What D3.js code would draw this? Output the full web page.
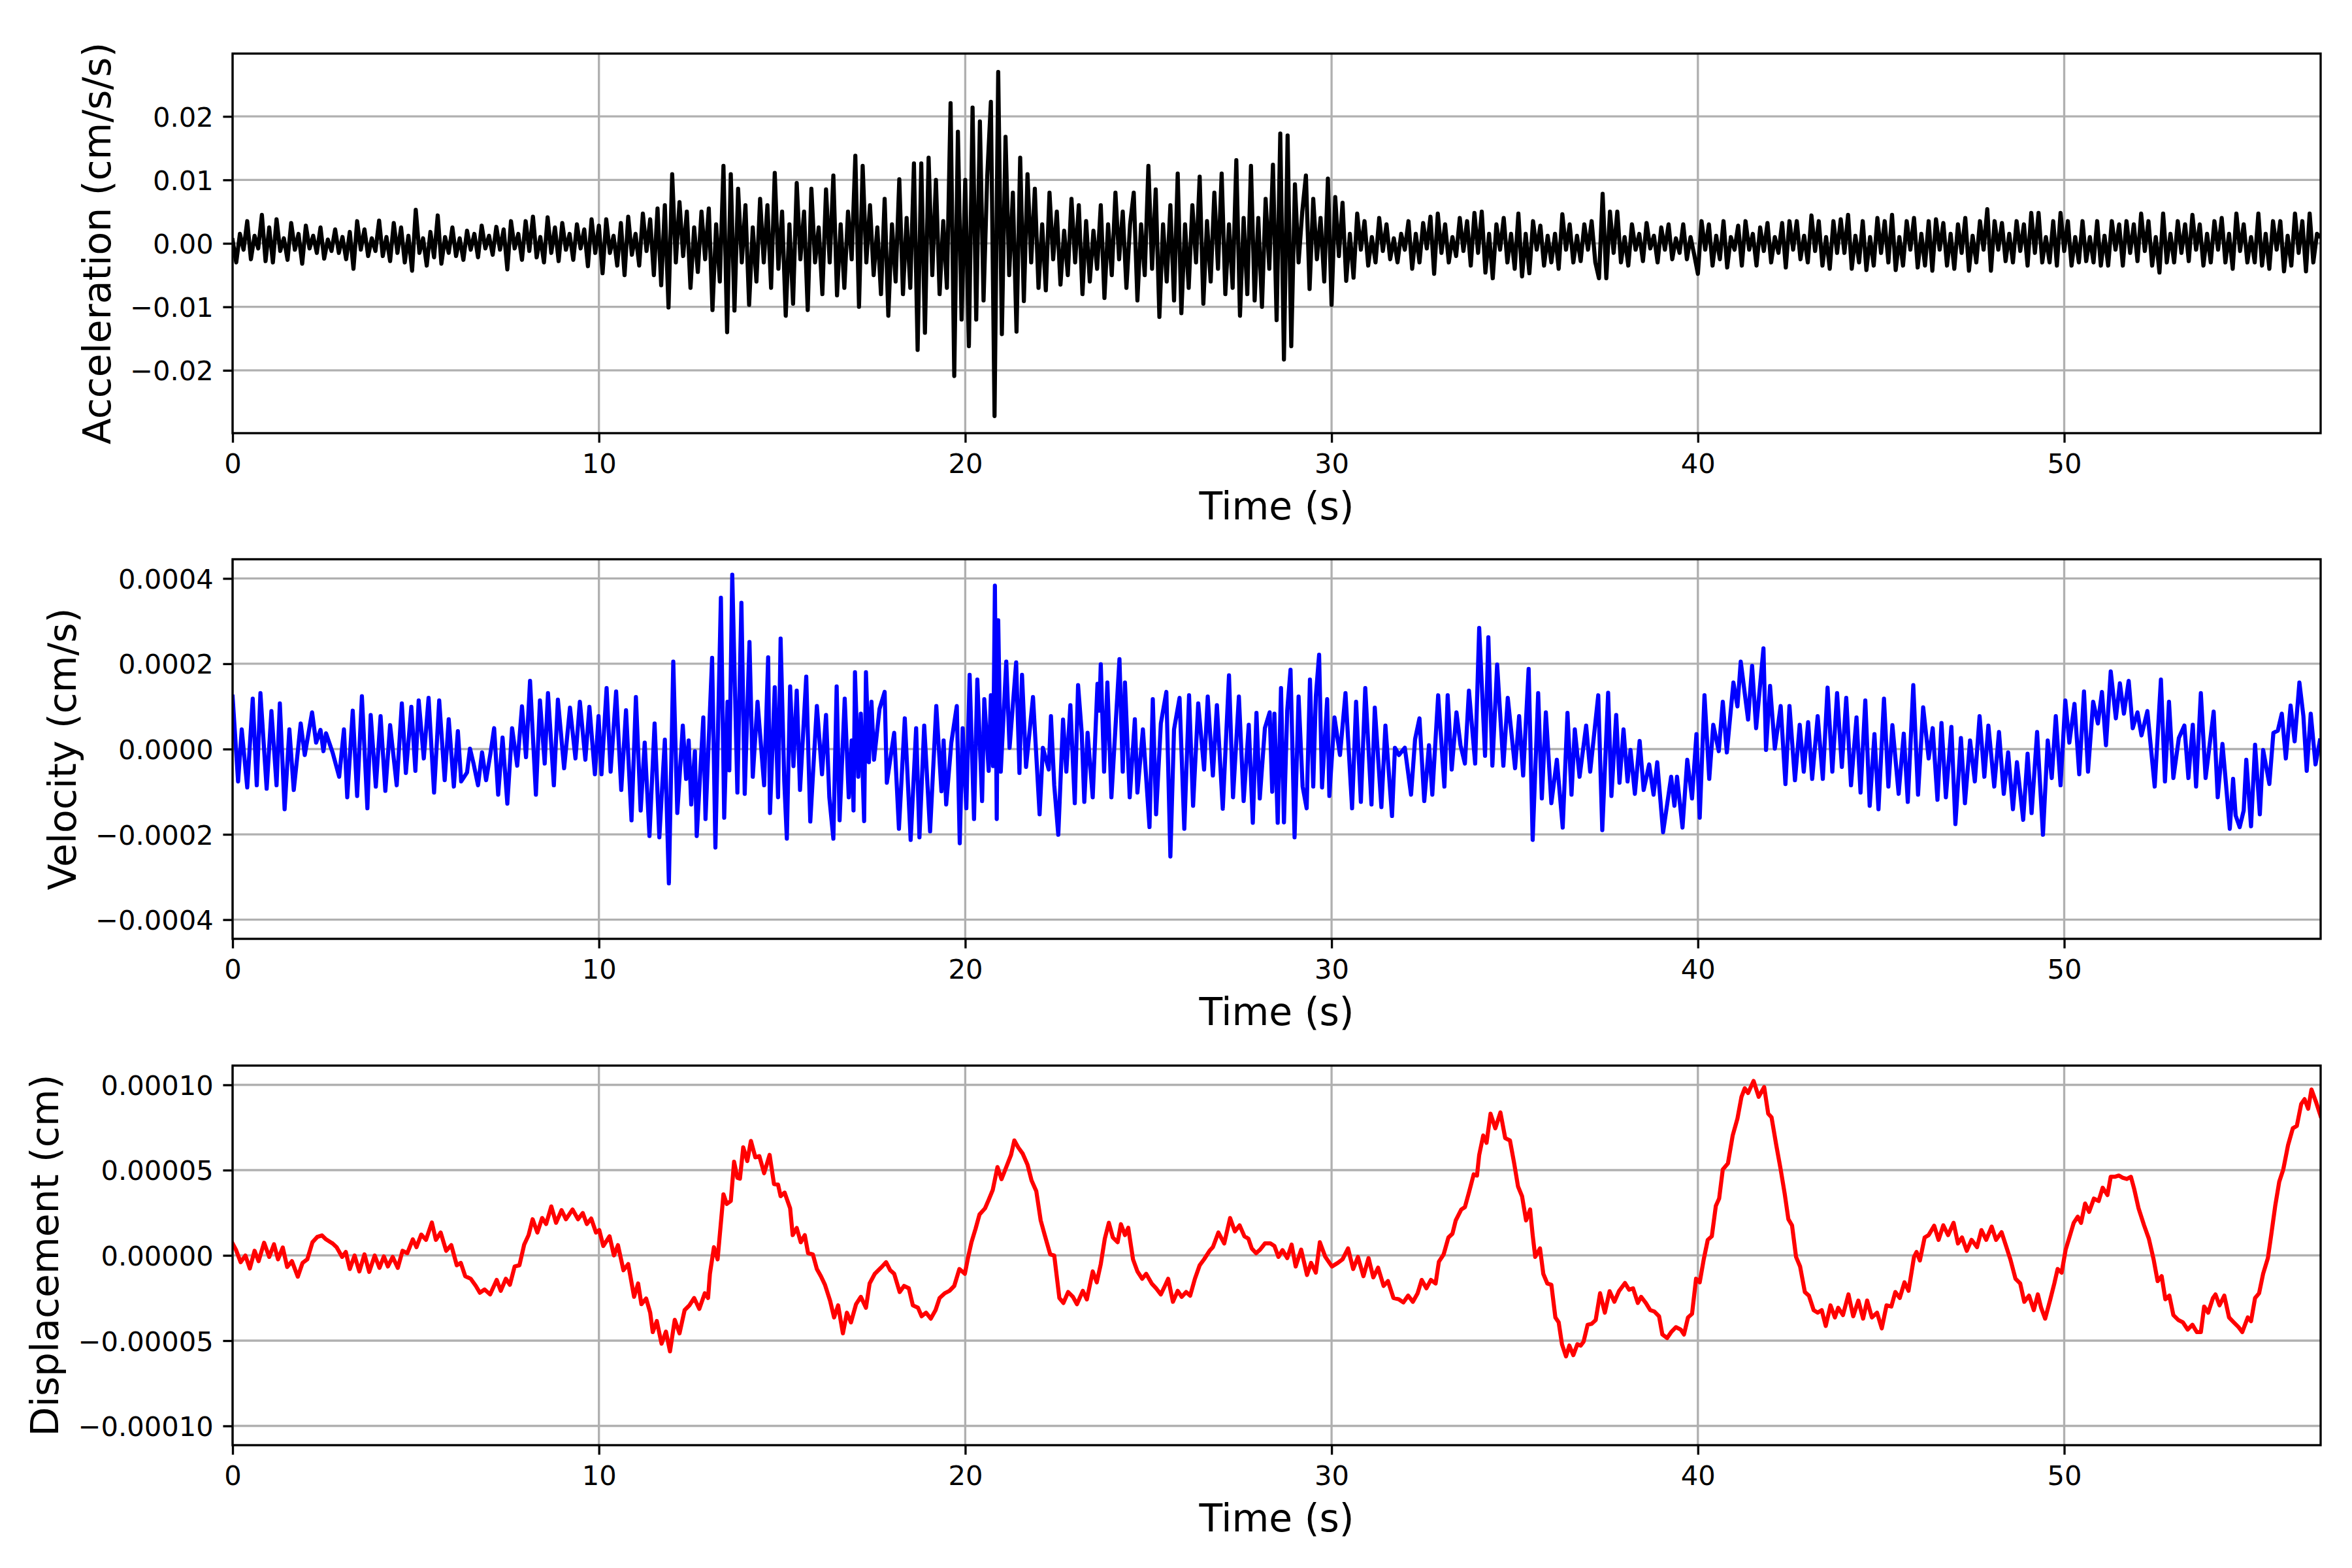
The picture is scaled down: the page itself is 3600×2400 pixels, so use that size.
<!DOCTYPE html>
<html>
<head>
<meta charset="utf-8">
<script src="https://cdn.jsdelivr.net/npm/d3@7"></script>
<style>
body{margin:0;background:#fff;}
text{font-family:"DejaVu Sans",sans-serif;}
</style>
</head>
<body>
<svg id="chart" width="3600" height="2400"></svg>
<script>
// ------------------------------------------------------------------
// ------------------------ DATA ----------------
// ------------------------------------------------------------------

var timeTicks = [0,10,20,30,40,50];
var accelTicks = [-0.02,-0.01,0,0.01,0.02];
var velTicks = [-0.0004,-0.0002,0,0.0002,0.0004];
var dispTicks = [-0.0001,-0.00005,0,0.00005,0.0001];

// acceleration, one row per second, 0.1 s apart, in 1e-3 cm/s/s
var ACC_DT = 0.1;
var accelRows = [
[0.5,-3.0,1.5,-1.0,3.5,-2.5,1.2,-0.8,4.5,-2.8],
[2.5,-3.0,3.8,-1.2,0.8,-2.6,3.2,-1.0,1.5,-3.2],
[2.8,-0.8,1.2,-1.5,2.5,-2.4,0.6,-1.2,2.2,-1.5],
[1.0,-2.5,1.8,-4.0,3.5,-1.0,2.2,-2.0,0.8,-1.2],
[3.6,-2.0,1.0,-2.8,3.2,-1.5,2.5,-3.0,1.2,-4.3],
[5.3,-1.5,0.8,-3.5,1.8,-2.2,4.4,-3.2,1.0,-1.5],
[2.5,-2.0,0.8,-2.6,2.0,-1.0,1.5,-2.2,2.8,-0.8],
[1.2,-1.8,2.6,-1.0,2.2,-4.1,3.5,-0.8,1.5,-2.6],
[3.5,-1.2,4.2,-2.2,1.0,-3.0,4.1,-1.5,2.5,-2.8],
[3.2,-1.0,1.5,-2.6,3.0,-0.8,2.2,-3.6,3.8,-1.5],
[2.8,-4.7,3.8,-1.5,1.2,-3.5,3.2,-5.0,4.2,-1.8],
[1.5,-3.5,4.7,-1.2,3.8,-5.0,5.5,-6.6,6.0,-10.1],
[10.9,-3.0,6.5,-2.0,5.0,-7.0,2.5,-4.5,5.0,-2.5],
[5.5,-10.5,3.0,-6.0,12.2,-14.0,10.9,-10.6,8.6,-3.0],
[6.0,-9.7,2.5,-6.0,7.0,-3.0,6.0,-7.0,11.1,-4.0],
[5.0,-11.4,3.0,-9.5,9.5,-2.5,5.0,-10.5,8.6,-3.0],
[2.5,-8.0,8.5,-3.0,10.7,-8.2,3.0,-7.0,5.0,-2.5],
[13.8,-10.0,12.2,-3.0,6.0,-5.0,2.5,-8.0,7.0,-11.4],
[3.0,-6.0,10.1,-8.0,4.0,-7.0,12.6,-16.8,12.6,-14.1],
[13.5,-5.0,10.0,-8.0,3.5,-7.0,22.1,-20.9,17.6,-12.0],
[10.0,-16.2,21.4,-12.0,19.2,-9.0,10.5,22.3,-27.2,27.0],
[-14.3,16.8,-5.0,8.0,-13.9,13.5,-9.1,10.9,-3.0,8.6],
[-7.0,3.0,-7.4,8.0,-2.5,5.0,-6.5,2.0,-5.0,7.0],
[-3.0,6.0,-8.0,3.5,-6.0,2.0,-4.0,6.0,-8.6,3.0],
[-5.0,8.0,-2.5,5.0,-7.0,3.0,8.0,-9.0,3.0,-5.0],
[12.2,-4.0,8.5,-11.6,3.0,-6.0,6.0,-9.0,11.0,-11.0],
[3.0,-7.0,6.0,-3.0,10.5,-9.5,3.5,-6.0,8.0,-4.0],
[11.0,-8.0,3.0,-7.0,13.1,-11.4,4.0,-8.0,12.2,-9.0],
[4.0,-10.0,7.0,-4.0,12.4,-12.1,17.3,-18.3,17.0,-16.2],
[9.3,-3.0,5.0,10.7,-7.2,7.0,-2.5,4.0,-6.0,10.2],
[-9.7,7.3,-2.0,6.4,-5.9,1.5,-5.4,4.7,-1.0,3.5],
[-3.5,1.0,-3.0,4.0,-1.2,3.0,-2.5,0.8,-3.0,1.5],
[-1.0,3.5,-4.0,1.5,-3.0,3.2,-0.8,4.2,-4.8,4.7],
[-1.5,3.0,-3.0,1.0,-2.0,4.0,-1.2,3.5,-3.5,4.8],
[-1.5,5.0,-4.6,1.5,-5.5,3.0,-1.0,4.0,-3.0,1.5],
[-4.0,4.7,-5.2,1.5,-4.7,3.5,-1.0,2.8,-3.5,1.2],
[-3.0,1.5,-4.0,4.6,-1.0,3.0,-3.0,1.2,-2.8,3.0],
[-1.0,3.5,-3.0,-5.5,7.8,-5.5,5.0,-1.5,5.0,-3.0],
[1.0,-3.5,3.0,-1.0,1.5,-2.8,3.2,-0.8,1.2,-3.0],
[2.5,-1.0,3.0,-2.5,0.8,-1.5,3.0,-2.5,1.0,-1.8],
[-4.8,3.5,-1.0,3.0,-3.5,1.2,-2.5,3.5,-3.8,1.0],
[-1.0,2.8,-3.5,3.5,-1.0,1.5,-3.5,2.5,-1.2,3.2],
[-3.0,1.0,-1.5,3.2,-3.8,3.5,-1.0,3.5,-2.5,1.2],
[-3.0,4.4,-1.2,3.5,-3.5,1.0,-4.0,3.5,-1.5,3.8],
[-1.5,4.5,-4.0,1.2,-3.0,3.5,-4.2,1.0,-3.5,4.0],
[-1.5,3.5,-3.0,4.5,-4.2,1.0,-3.5,3.5,-1.0,4.0],
[-3.8,1.5,-3.5,3.5,-4.3,3.8,-1.0,3.2,-3.5,1.5],
[-4.0,3.0,-1.5,4.0,-4.3,1.2,-3.0,3.5,-1.0,5.4],
[-4.3,3.5,-1.0,3.2,-2.8,1.5,-3.0,3.5,-1.2,3.0],
[-3.5,4.8,-1.5,4.8,-3.0,1.0,-3.0,3.5,-3.5,4.8],
[-1.2,3.5,-3.5,1.0,-3.0,3.5,-2.8,1.0,-3.0,3.5],
[-3.5,1.2,-3.5,3.5,-1.0,3.0,-3.5,3.5,-1.5,3.0],
[-2.8,4.7,-1.2,3.5,-3.5,1.0,-4.6,4.7,-3.0,1.5],
[-3.0,3.5,-1.5,3.0,-2.8,4.5,-1.0,3.0,-3.5,1.5],
[-3.0,3.5,-1.0,4.0,-3.0,1.5,-4.0,4.7,-1.2,3.0],
[-3.0,1.0,-3.0,4.7,-3.5,1.5,-4.0,3.5,-1.0,3.5],
[-4.4,1.2,-3.5,4.7,-1.5,3.5,-4.4,4.7,-3.0,1.5],
[1.0]
];

// velocity, time in s and value in 1e-4 cm/s
var velTime = [
0.00,0.15,0.25,0.40,0.55,0.66,0.76,0.93,1.06,1.20,1.29,1.42,1.55,1.67,1.86,1.97,2.17,2.28,2.40,2.48,
2.55,2.73,2.91,3.04,3.13,3.28,3.40,3.53,3.68,3.77,3.91,4.04,4.17,4.30,4.48,4.62,4.73,4.88,4.99,5.08,
5.22,5.35,5.50,5.64,5.79,5.90,6.04,6.15,6.24,6.40,6.48,6.58,6.70,6.81,6.92,7.04,7.14,7.25,7.37,7.50,
7.63,7.77,7.90,8.01,8.12,8.28,8.39,8.52,8.61,8.77,8.88,9.05,9.21,9.36,9.48,9.63,9.74,9.89,9.99,10.07,
10.21,10.32,10.47,10.61,10.74,10.89,11.01,11.14,11.25,11.38,11.52,11.65,11.80,11.91,12.03,12.14,12.29,12.38,12.45,12.52,
12.62,12.67,12.85,12.91,13.09,13.18,13.33,13.42,13.51,13.56,13.64,13.78,13.89,13.98,14.11,14.20,14.33,14.51,14.62,14.67,
14.80,14.89,14.96,15.06,15.13,15.22,15.31,15.40,15.49,15.66,15.77,15.95,16.09,16.20,16.29,16.40,16.49,16.57,16.71,16.82,
16.90,16.95,16.99,17.08,17.15,17.24,17.29,17.37,17.44,17.51,17.66,17.80,17.86,18.06,18.19,18.35,18.51,18.66,18.75,18.88,
19.04,19.21,19.35,19.41,19.48,19.62,19.77,19.85,19.93,20.03,20.12,20.24,20.33,20.46,20.52,20.64,20.70,20.76,20.81,20.86,
20.90,20.97,21.12,21.21,21.39,21.48,21.55,21.66,21.85,22.03,22.12,22.28,22.34,22.43,22.54,22.67,22.76,22.87,22.99,23.08,
23.18,23.25,23.34,23.48,23.61,23.66,23.70,23.79,23.88,23.99,24.21,24.30,24.36,24.49,24.63,24.70,24.85,25.03,25.12,25.21,
25.34,25.49,25.60,25.70,25.85,25.98,26.11,26.22,26.36,26.52,26.62,26.76,26.87,27.03,27.20,27.31,27.47,27.60,27.74,27.85,
27.95,28.04,28.18,28.31,28.38,28.44,28.53,28.62,28.70,28.79,28.88,28.99,29.10,29.21,29.32,29.41,29.50,29.57,29.66,29.74,
29.88,29.94,30.08,30.23,30.38,30.56,30.67,30.80,30.92,31.09,31.18,31.36,31.47,31.65,31.73,31.84,32.00,32.17,32.28,32.40,
32.53,32.66,32.75,32.91,33.08,33.17,33.28,33.41,33.52,33.64,33.75,33.92,34.03,34.19,34.28,34.39,34.52,34.69,34.81,35.01,
35.12,35.23,35.38,35.49,35.64,35.74,35.85,36.00,36.15,36.31,36.44,36.55,36.64,36.77,36.95,37.06,37.28,37.39,37.55,37.64,
37.77,37.86,37.97,38.08,38.16,38.28,38.41,38.52,38.67,38.79,38.89,39.05,39.27,39.36,39.43,39.58,39.71,39.84,39.96,40.05,
40.18,40.31,40.42,40.57,40.68,40.79,40.97,41.08,41.17,41.37,41.48,41.59,41.79,41.86,41.97,42.10,42.26,42.39,42.50,42.65,
42.78,42.89,43.01,43.12,43.27,43.41,43.54,43.67,43.80,43.93,44.05,44.18,44.33,44.44,44.57,44.69,44.82,44.93,45.08,45.20,
45.31,45.48,45.62,45.73,45.88,46.01,46.15,46.30,46.41,46.54,46.65,46.77,46.92,47.03,47.18,47.29,47.43,47.56,47.69,47.82,
47.93,48.09,48.22,48.35,48.47,48.60,48.71,48.88,49.00,49.11,49.26,49.42,49.55,49.66,49.77,49.90,50.03,50.14,50.28,50.41,
50.54,50.65,50.79,50.92,51.03,51.14,51.27,51.41,51.52,51.63,51.76,51.87,52.00,52.11,52.27,52.47,52.64,52.75,52.86,52.98,
53.13,53.28,53.39,53.51,53.60,53.73,53.86,54.08,54.19,54.32,54.41,54.52,54.61,54.68,54.79,54.90,54.97,55.10,55.21,55.34,
55.43,55.60,55.71,55.83,55.94,56.05,56.18,56.29,56.42,56.53,56.62,56.73,56.86,56.98
];
var velValue = [
1.23,-0.76,0.46,-0.90,1.18,-0.85,1.31,-0.93,0.89,-0.85,1.07,-1.41,0.46,-0.96,0.60,-0.14,0.86,0.15,0.45,-0.05,
0.37,-0.08,-0.65,0.46,-1.13,0.90,-1.10,1.24,-1.39,0.80,-0.88,0.77,-0.98,0.56,-0.85,1.07,-0.56,0.99,-0.51,1.14,
-0.22,1.20,-1.02,1.14,-0.73,0.70,-0.88,0.42,-0.76,-0.55,0.01,-0.35,-0.85,-0.08,-0.73,-0.10,0.49,-1.07,0.27,-1.28,
0.49,-0.39,1.00,-0.19,1.60,-1.07,1.14,-0.34,1.31,-0.85,1.16,-0.45,0.97,-0.22,1.11,-0.25,0.99,-0.59,0.77,-0.59,
1.43,-0.53,1.35,-0.96,0.91,-1.67,1.22,-1.44,0.15,-2.04,0.60,-2.07,0.22,-3.15,2.05,-1.50,0.55,-0.70,0.20,-1.30,
-0.05,-2.04,0.74,-1.64,2.14,-2.31,3.55,-1.61,1.11,-0.50,4.09,-1.02,3.43,-1.05,2.51,-0.65,1.11,-0.85,2.15,-1.50,
1.45,-1.13,2.59,-0.76,-2.10,1.47,-0.40,1.37,-0.96,1.70,-1.70,1.01,-0.59,0.80,-1.13,-2.10,1.47,-1.67,1.18,-1.13,
0.20,-1.44,1.80,-0.65,0.83,-1.69,1.80,-0.31,1.11,-0.25,0.94,1.34,-0.79,0.38,-1.87,0.72,-2.13,0.49,-2.07,0.55,
-1.93,1.01,-0.99,0.20,-1.30,0.15,1.01,-2.21,0.49,-1.39,1.74,-1.64,1.63,-1.22,1.17,-0.51,1.26,-0.40,3.83,-1.64,
3.02,-0.53,2.05,0.03,2.03,-0.56,1.74,-0.42,1.22,-1.53,0.03,-0.48,0.77,-0.85,-2.01,0.69,-0.53,1.03,-1.27,1.50,
0.38,-1.24,0.38,-1.13,1.53,0.90,1.99,-0.53,1.56,-1.13,2.11,-0.53,1.56,-1.13,0.70,-1.02,0.46,-1.83,1.17,-1.53,
0.60,1.34,-2.52,0.46,1.20,-1.87,1.26,-1.33,1.07,-0.48,1.23,-0.62,1.03,-1.40,1.73,-1.13,1.23,-1.22,0.57,-1.73,
0.85,-1.16,0.49,0.86,-1.00,0.83,-1.73,1.43,-1.72,0.91,1.86,-2.07,1.23,-0.88,-1.39,1.63,-0.88,1.23,2.21,-0.90,
1.17,-1.10,0.74,-0.14,1.31,-1.39,1.11,-1.24,1.43,-1.30,0.97,-1.36,0.55,-1.57,0.03,-0.14,0.03,-1.07,0.23,0.72,
-1.22,0.09,-1.07,1.26,-0.88,1.26,-0.48,0.86,0.09,-0.34,1.37,-0.34,2.84,-0.16,2.62,-0.39,1.98,-0.39,1.20,-0.45,
0.77,-0.62,1.88,-2.13,1.31,-1.16,0.86,-1.27,-0.25,-1.84,0.85,-1.07,0.46,-0.65,0.55,-0.53,1.26,-1.90,1.32,-1.10,
0.80,-0.79,0.46,-0.76,-0.02,-1.05,0.19,-0.96,-0.36,-1.07,-0.31,-1.95,-0.65,-1.33,-0.65,-1.84,-0.25,-1.16,0.35,-1.61,
1.26,-0.70,0.57,-0.05,1.11,-0.08,1.56,1.00,2.05,0.69,1.95,0.49,2.36,-0.02,1.48,0.01,1.01,-0.82,1.01,-0.73,
0.57,-0.53,0.63,-0.70,0.77,-0.70,1.44,-0.53,1.31,-0.42,1.20,-0.85,0.74,-1.02,1.14,-1.33,0.35,-1.41,1.18,-0.88,
0.56,-1.05,0.36,-1.24,1.50,-1.07,0.98,-0.22,0.49,-1.19,0.61,-1.13,0.52,-1.76,0.26,-1.27,0.20,-0.76,0.77,-0.65,
0.55,-0.88,0.40,-1.05,-0.08,-1.41,-0.31,-1.66,-0.11,-1.50,0.40,-2.01,0.20,-0.68,0.77,-0.85,1.14,0.15,1.06,-0.59,
1.35,-0.53,1.11,0.60,1.34,0.09,1.82,0.72,1.54,0.83,1.60,0.49,0.86,0.32,0.89,-0.88,1.63,-0.76,1.11,-0.68,
0.26,0.55,-0.68,0.57,-0.88,1.31,-0.68,0.88,-1.13,0.12,-0.76,-1.87,-0.70,-1.56,-1.83,-1.44,-0.25,-1.81,0.10,-1.53,
-0.02,-0.82,0.38,0.43,0.83,-0.22,1.02,0.18,1.56,0.77,-0.51,0.83,-0.36,0.20
];

// displacement, time in s and value in 1e-5 cm
var dispTime = [
0.00,0.09,0.22,0.35,0.47,0.60,0.71,0.86,1.00,1.13,1.24,1.37,1.49,1.62,1.78,1.91,2.04,2.18,2.31,2.44,
2.55,2.73,2.84,2.99,3.09,3.20,3.33,3.46,3.60,3.73,3.88,4.01,4.13,4.24,4.37,4.51,4.64,4.77,4.92,5.02,
5.15,5.28,5.44,5.55,5.68,5.83,5.97,6.12,6.23,6.35,6.50,6.64,6.75,6.88,7.03,7.21,7.32,7.46,7.57,7.70,
7.83,7.96,8.08,8.19,8.32,8.45,8.56,8.70,8.83,8.98,9.10,9.28,9.43,9.56,9.67,9.79,9.92,10.01,10.12,10.29,
10.41,10.52,10.67,10.80,10.96,11.07,11.16,11.29,11.40,11.47,11.58,11.71,11.83,11.94,12.07,12.20,12.34,12.47,12.60,12.74,
12.89,12.98,13.03,13.14,13.24,13.40,13.49,13.60,13.69,13.78,13.85,13.94,14.05,14.15,14.27,14.38,14.51,14.66,14.78,14.89,
14.96,15.07,15.22,15.29,15.40,15.51,15.62,15.71,15.84,15.95,16.06,16.17,16.31,16.42,16.53,16.66,16.77,16.88,17.02,17.15,
17.29,17.39,17.53,17.70,17.84,17.95,18.06,18.21,18.33,18.46,18.57,18.71,18.81,18.93,19.06,19.19,19.30,19.44,19.57,19.70,
19.84,19.99,20.08,20.17,20.28,20.39,20.54,20.64,20.75,20.88,20.99,21.12,21.25,21.34,21.45,21.57,21.70,21.81,21.94,22.06,
22.17,22.32,22.43,22.57,22.68,22.81,22.94,23.05,23.21,23.32,23.48,23.59,23.70,23.81,23.92,24.03,24.16,24.25,24.36,24.45,
24.58,24.70,24.83,24.94,25.09,25.21,25.34,25.45,25.54,25.67,25.80,25.91,26.03,26.14,26.27,26.40,26.52,26.67,26.76,26.91,
27.07,27.23,27.36,27.49,27.62,27.73,27.82,27.94,28.05,28.18,28.33,28.44,28.55,28.66,28.79,28.91,29.02,29.17,29.33,29.44,
29.57,29.68,29.83,30.01,30.17,30.30,30.45,30.59,30.72,30.87,31.01,31.14,31.27,31.42,31.54,31.69,31.84,31.96,32.09,32.22,
32.35,32.46,32.59,32.71,32.84,32.93,33.06,33.19,33.30,33.39,33.54,33.64,33.75,33.88,33.97,34.03,34.14,34.23,34.34,34.47,
34.61,34.74,34.87,34.98,35.09,35.20,35.31,35.42,35.49,35.56,35.69,35.78,35.89,36.00,36.11,36.20,36.29,36.40,36.49,36.60,
36.71,36.80,36.88,36.99,37.10,37.21,37.33,37.46,37.59,37.72,37.85,38.01,38.12,38.23,38.36,38.45,38.58,38.70,38.81,38.94,
39.03,39.16,39.27,39.40,39.53,39.62,39.73,39.84,39.95,40.05,40.16,40.27,40.38,40.49,40.58,40.68,40.82,40.95,41.08,41.19,
41.28,41.37,41.52,41.66,41.81,41.92,42.01,42.14,42.26,42.37,42.47,42.57,42.68,42.79,42.92,43.03,43.16,43.27,43.38,43.49,
43.62,43.74,43.83,43.96,44.11,44.24,44.38,44.51,44.62,44.75,44.89,45.02,45.15,45.28,45.39,45.51,45.64,45.75,45.90,45.97,
46.06,46.19,46.30,46.45,46.57,46.70,46.83,46.98,47.10,47.21,47.34,47.47,47.62,47.74,47.87,48.02,48.14,48.29,48.40,48.53,
48.67,48.80,48.91,49.04,49.17,49.28,49.37,49.48,49.62,49.73,49.82,49.93,50.04,50.14,50.26,50.37,50.46,50.57,50.68,50.81,
50.94,51.05,51.18,51.27,51.38,51.49,51.60,51.71,51.82,51.91,52.03,52.18,52.31,52.44,52.55,52.66,52.76,52.87,52.98,53.11,
53.24,53.37,53.50,53.62,53.73,53.82,53.93,54.06,54.13,54.24,54.37,54.50,54.63,54.76,54.86,55.01,55.10,55.21,55.32,55.43,
55.56,55.65,55.76,55.87,55.98,56.11,56.24,56.35,56.47,56.56,56.66,56.75,56.87,57.00
];
var dispValue = [
0.70,0.34,-0.40,-0.01,-0.77,0.27,-0.34,0.74,-0.09,0.65,-0.23,0.46,-0.68,-0.34,-1.25,-0.44,-0.23,0.77,1.08,1.17,
0.94,0.70,0.48,-0.09,0.20,-0.80,-0.01,-0.94,0.06,-0.97,-0.01,-0.73,-0.06,-0.65,-0.09,-0.73,0.27,0.13,0.94,0.48,
1.22,0.91,1.93,0.91,1.34,0.27,0.60,-0.58,-0.44,-1.22,-1.37,-1.79,-2.19,-2.00,-2.29,-1.44,-2.08,-1.37,-1.72,-0.65,
-0.58,0.63,1.19,2.12,1.34,2.19,1.84,2.87,1.91,2.65,2.12,2.69,2.12,2.48,1.84,2.16,1.34,1.48,0.55,1.12,
0.00,0.60,-0.87,-0.51,-2.43,-1.65,-2.86,-2.53,-3.36,-4.50,-3.85,-5.18,-4.47,-5.63,-3.78,-4.57,-3.21,-2.93,-2.50,-3.14,
-2.22,-2.50,-1.08,0.48,-0.23,3.58,3.02,3.19,5.49,4.55,4.50,6.34,5.53,6.71,5.75,5.82,4.82,5.89,4.18,4.15,
3.47,3.68,2.76,1.19,1.61,0.77,1.19,0.13,0.06,-0.80,-1.22,-1.72,-2.65,-3.64,-2.93,-4.57,-3.36,-3.93,-2.86,-2.43,
-3.07,-1.65,-1.08,-0.72,-0.40,-0.87,-1.08,-2.15,-1.79,-1.93,-2.93,-3.07,-3.57,-3.36,-3.71,-3.21,-2.50,-2.22,-2.08,-1.79,
-0.80,-1.08,-0.09,0.77,1.55,2.40,2.76,3.26,3.83,5.18,4.47,5.18,5.89,6.74,6.32,5.96,5.32,4.40,3.76,2.05,
1.19,0.06,-0.01,-2.50,-2.79,-2.15,-2.43,-2.86,-2.08,-2.58,-0.94,-1.58,-0.51,0.98,1.91,1.05,0.77,1.83,1.19,1.62,
-0.23,-0.94,-1.37,-1.08,-1.65,-1.93,-2.29,-1.79,-1.37,-2.72,-2.08,-2.43,-2.15,-2.36,-1.37,-0.58,-0.23,0.27,0.48,1.34,
0.70,2.19,1.41,1.76,1.12,0.98,0.41,0.13,0.34,0.70,0.70,0.55,-0.09,0.31,-0.16,0.63,-0.65,0.34,-1.15,-0.44,
-1.01,0.77,-0.09,-0.65,-0.44,-0.23,0.41,-0.80,-0.09,-1.22,-0.16,-1.29,-0.72,-1.79,-1.51,-2.50,-2.58,-2.76,-2.36,-2.72,
-2.22,-1.44,-1.93,-1.44,-1.65,-0.37,0.06,1.05,1.27,2.05,2.69,2.83,3.68,4.75,4.68,5.89,7.03,6.60,8.31,7.45,
8.38,6.88,6.74,5.46,4.04,3.47,2.05,2.69,1.19,-0.09,0.41,-1.08,-1.65,-1.72,-3.64,-3.93,-5.21,-5.92,-5.29,-5.85,
-5.21,-5.29,-5.06,-4.07,-4.01,-3.79,-2.22,-3.36,-2.10,-2.72,-2.08,-1.62,-2.01,-1.93,-2.79,-2.43,-2.79,-3.21,-3.29,-3.57,
-4.64,-4.85,-4.50,-4.21,-4.35,-4.64,-3.64,-3.43,-1.37,-1.58,-0.23,0.91,1.12,2.90,3.33,5.04,5.39,7.03,8.02,9.30,
9.80,9.52,10.23,9.30,9.87,8.31,8.10,6.46,5.04,3.61,2.12,1.76,-0.09,-0.65,-2.15,-2.36,-3.21,-3.36,-3.21,-4.14,
-2.93,-3.64,-3.07,-3.50,-2.29,-3.57,-2.65,-3.71,-2.65,-3.64,-3.36,-4.28,-2.93,-3.00,-2.15,-2.50,-1.58,-2.08,-0.09,0.20,
-0.30,1.05,1.19,1.74,0.91,1.76,1.19,1.91,0.70,1.05,0.27,0.91,0.48,1.48,0.91,1.69,0.91,1.36,0.63,-0.23,
-1.37,-1.65,-2.72,-2.36,-3.21,-2.29,-3.07,-3.71,-2.58,-1.65,-0.80,-1.01,0.34,1.05,1.91,2.27,1.91,3.04,2.55,3.33,
3.19,3.97,3.54,4.61,4.61,4.68,4.55,4.48,4.61,3.90,2.76,1.76,0.98,-0.23,-1.51,-1.22,-2.57,-2.36,-3.50,-3.78,
-3.93,-4.35,-4.07,-4.50,-4.50,-3.00,-3.36,-2.50,-2.29,-2.93,-2.36,-3.64,-3.93,-4.21,-4.50,-3.64,-3.86,-2.50,-2.22,-1.08,
-0.16,1.19,2.90,4.32,5.04,6.46,7.45,7.59,8.88,9.16,8.60,9.73,9.02,8.17
];

// ------------------------------------------------------------------
// ------------------------ LAYOUT ----------------------------------
// ------------------------------------------------------------------
var PT = 300/72;                 // one point at 300 dpi
var PLOT_LEFT = 356, PLOT_RIGHT = 3552;
var PANEL_H = 581;
var TICK_LEN = 3.5*PT, TICK_PAD = 3.5*PT, LABEL_PAD = 4*PT;
var TICK_FONT = 10*PT, LABEL_FONT = 14*PT;
var AXIS_W = 0.8*PT, LINE_W = 1.5*PT;
var GRID_COLOR = "#b0b0b0";

var svg = d3.select("#chart");
svg.append("rect").attr("width",3600).attr("height",2400).attr("fill","#fff");

var x = d3.scaleLinear().domain([0,57]).range([PLOT_LEFT,PLOT_RIGHT]);

// build point lists
var accelPts = [];
accelRows.forEach(function(row,i){
	row.forEach(function(v,j){ accelPts.push([i + j*ACC_DT, v*1e-3]); });
});
var velPts = velTime.map(function(t,i){ return [t, velValue[i]*1e-4]; });
var dispPts = dispTime.map(function(t,i){ return [t, dispValue[i]*1e-5]; });

drawPanel({id:"acc", top:82, pts:accelPts, color:"#000000", yMax:0.0299, ticks:accelTicks, fmt:d3.format(".2f"), label:"Acceleration (cm/s/s)"});
drawPanel({id:"vel", top:856, pts:velPts, color:"#0000ff", yMax:0.000445, ticks:velTicks, fmt:d3.format(".4f"), label:"Velocity (cm/s)"});
drawPanel({id:"disp", top:1631, pts:dispPts, color:"#ff0000", yMax:0.0001113, ticks:dispTicks, fmt:d3.format(".5f"), label:"Displacement (cm)"});


/**
* one axes: grid, trace, spines, ticks, labels
*/
function drawPanel(cfg){
	var bottom = cfg.top + PANEL_H;
	var y = d3.scaleLinear().domain([-cfg.yMax,cfg.yMax]).range([bottom,cfg.top]);
	var g = svg.append("g").attr("id",cfg.id);

	//---------------- grid --------------------
	var gGrid = g.append("g").attr("stroke",GRID_COLOR).attr("stroke-width",AXIS_W);
	timeTicks.forEach(function(t){
		gGrid.append("line").attr("x1",x(t)).attr("x2",x(t)).attr("y1",cfg.top).attr("y2",bottom);
	});
	cfg.ticks.forEach(function(v){
		gGrid.append("line").attr("x1",PLOT_LEFT).attr("x2",PLOT_RIGHT).attr("y1",y(v)).attr("y2",y(v));
	});

	//---------------- trace --------------------
	g.append("clipPath").attr("id","clip_"+cfg.id)
		.append("rect").attr("x",PLOT_LEFT).attr("y",cfg.top).attr("width",PLOT_RIGHT-PLOT_LEFT).attr("height",PANEL_H);

	var line = d3.line().x(function(d){return x(d[0]);}).y(function(d){return y(d[1]);});
	g.append("path")
		.attr("clip-path","url(#clip_"+cfg.id+")")
		.attr("d",line(cfg.pts))
		.attr("fill","none")
		.attr("stroke",cfg.color)
		.attr("stroke-width",LINE_W)
		.attr("stroke-linejoin","round")
		.attr("stroke-linecap","square");

	//---------------- spines --------------------
	g.append("rect")
		.attr("x",PLOT_LEFT).attr("y",cfg.top)
		.attr("width",PLOT_RIGHT-PLOT_LEFT).attr("height",PANEL_H)
		.attr("fill","none").attr("stroke","#000").attr("stroke-width",AXIS_W);

	//---------------- x axis --------------------
	var gx = g.append("g").attr("transform","translate(0,"+bottom+")")
		.call(d3.axisBottom(x).tickValues(timeTicks).tickFormat(d3.format("d")).tickSize(TICK_LEN).tickPadding(TICK_PAD));
	_styleAxis(gx);
	gx.selectAll(".tick text").attr("y",60.9-0.76*TICK_FONT).attr("dy","0.76em");

	//---------------- y axis --------------------
	var gy = g.append("g").attr("transform","translate("+PLOT_LEFT+",0)")
		.call(d3.axisLeft(y).tickValues(cfg.ticks).tickFormat(cfg.fmt).tickSize(TICK_LEN).tickPadding(TICK_PAD));
	_styleAxis(gy);
	gy.selectAll(".tick text").attr("dy","0.36em");

	var maxW = 0;
	gy.selectAll(".tick text").each(function(){ maxW = Math.max(maxW, this.getComputedTextLength()); });
	var labelX = PLOT_LEFT - TICK_LEN - TICK_PAD - maxW - LABEL_PAD - 0.236*LABEL_FONT;

	//---------------- labels --------------------
	g.append("text")
		.attr("transform","translate("+labelX+","+(cfg.top+PANEL_H/2)+") rotate(-90)")
		.attr("text-anchor","middle")
		.attr("font-size",LABEL_FONT)
		.attr("fill","#000")
		.text(cfg.label);

	g.append("text")
		.attr("x",(PLOT_LEFT+PLOT_RIGHT)/2)
		.attr("y",bottom+132)
		.attr("text-anchor","middle")
		.attr("font-size",LABEL_FONT)
		.attr("fill","#000")
		.text("Time (s)");
}

function _styleAxis(ax){
	ax.attr("font-family","DejaVu Sans").attr("font-size",TICK_FONT);
	ax.select(".domain").remove();
	ax.selectAll(".tick line").attr("stroke","#000").attr("stroke-width",AXIS_W);
	ax.selectAll(".tick text").attr("fill","#000");
}
</script>
</body>
</html>
